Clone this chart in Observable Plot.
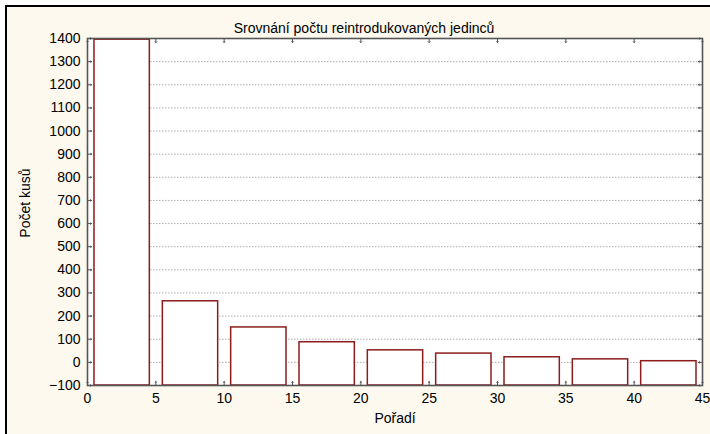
<!DOCTYPE html>
<html>
<head>
<meta charset="utf-8">
<script src="https://cdn.jsdelivr.net/npm/d3@7"></script>
<script src="https://cdn.jsdelivr.net/npm/@observablehq/plot@0.6"></script>
<style>
  html, body { margin: 0; padding: 0; background: #ffffff; }
  #wrap { position: relative; width: 710px; height: 434px; overflow: hidden; background: #ffffff; }
  #panel { position: absolute; left: 5px; top: 5px; width: 720px; height: 440px; box-sizing: border-box;
           background: #fdf9ee; border-left: 2px solid #000; border-top: 2px solid #000; }
  #chart { position: absolute; left: 0; top: 0; }
</style>
</head>
<body>
<div id="wrap"><div id="panel"></div><div id="chart"></div></div>
<script>
const title = "Srovnání počtu reintrodukovaných jedinců";
const xLabel = "Pořadí";
const yLabel = "Počet kusů";
const binStart = [0, 5, 10, 15, 20, 25, 30, 35, 40];
const binEnd = [5, 10, 15, 20, 25, 30, 35, 40, 45];
const counts = [1395, 264, 151, 87, 52, 38, 22, 13, 5];
const xDomain = [0, 45];
const yDomain = [-100, 1400];
const xTicks = [0, 5, 10, 15, 20, 25, 30, 35, 40, 45];
const yTicks = [-100, 0, 100, 200, 300, 400, 500, 600, 700, 800, 900, 1000, 1100, 1200, 1300, 1400];
const gridTicks = yTicks.filter(v => v > yDomain[0] && v < yDomain[1]);

const bars = binStart.map((s, i) => ({x1: s, x2: binEnd[i], value: counts[i]}));

const font = "'Liberation Sans', Arial, sans-serif";
const frameColor = "#555555";
const fs = 14;

const plot = Plot.plot({
  width: 710,
  height: 434,
  marginLeft: 87,
  marginRight: 8,
  marginTop: 38,
  marginBottom: 49,
  style: {background: "transparent", fontFamily: font, fontSize: fs + "px", color: "#000"},
  x: {domain: xDomain, ticks: xTicks},
  y: {domain: yDomain, ticks: yTicks},
  marks: [
    Plot.frame({fill: "white", stroke: null}),
    Plot.ruleY(gridTicks, {stroke: "#9a9a9a", strokeWidth: 0.8, strokeDasharray: "1.5,1.5"}),
    Plot.rectY(bars, {x1: "x1", x2: "x2", y1: yDomain[0], y2: "value", fill: "white",
      stroke: "#8c1c1c", strokeWidth: 1.5, insetLeft: 7, insetRight: 6}),
    Plot.vector(yTicks, {x: xDomain[0], y: d => d, length: 4, rotate: 90, anchor: "start", stroke: frameColor, strokeWidth: 1}),
    Plot.vector(yTicks, {x: xDomain[1], y: d => d, length: 4, rotate: -90, anchor: "start", stroke: frameColor, strokeWidth: 1}),
    Plot.vector(xTicks, {x: d => d, y: yDomain[0], length: 4, rotate: 0, anchor: "start", stroke: frameColor, strokeWidth: 1}),
    Plot.vector(xTicks, {x: d => d, y: yDomain[1], length: 4, rotate: 180, anchor: "start", stroke: frameColor, strokeWidth: 1}),
    Plot.frame({stroke: frameColor, strokeWidth: 1.6}),
    Plot.axisY({ticks: yTicks, tickFormat: d3.format("d"), tickSize: 0, tickPadding: 7, label: null, fontSize: fs}),
    Plot.axisX({ticks: xTicks, tickFormat: d3.format("d"), tickSize: 0, tickPadding: 8, label: null, fontSize: fs}),
    Plot.text([xLabel], {frameAnchor: "bottom", dy: 37, fontSize: fs}),
    Plot.text([yLabel], {frameAnchor: "left", textAnchor: "middle", dx: -62, dy: -9, rotate: -90, fontSize: fs}),
    Plot.text([title], {frameAnchor: "top", textAnchor: "middle", dx: -31, dy: -15, fontSize: fs})
  ]
});
document.getElementById("chart").appendChild(plot);
</script>
</body>
</html>
